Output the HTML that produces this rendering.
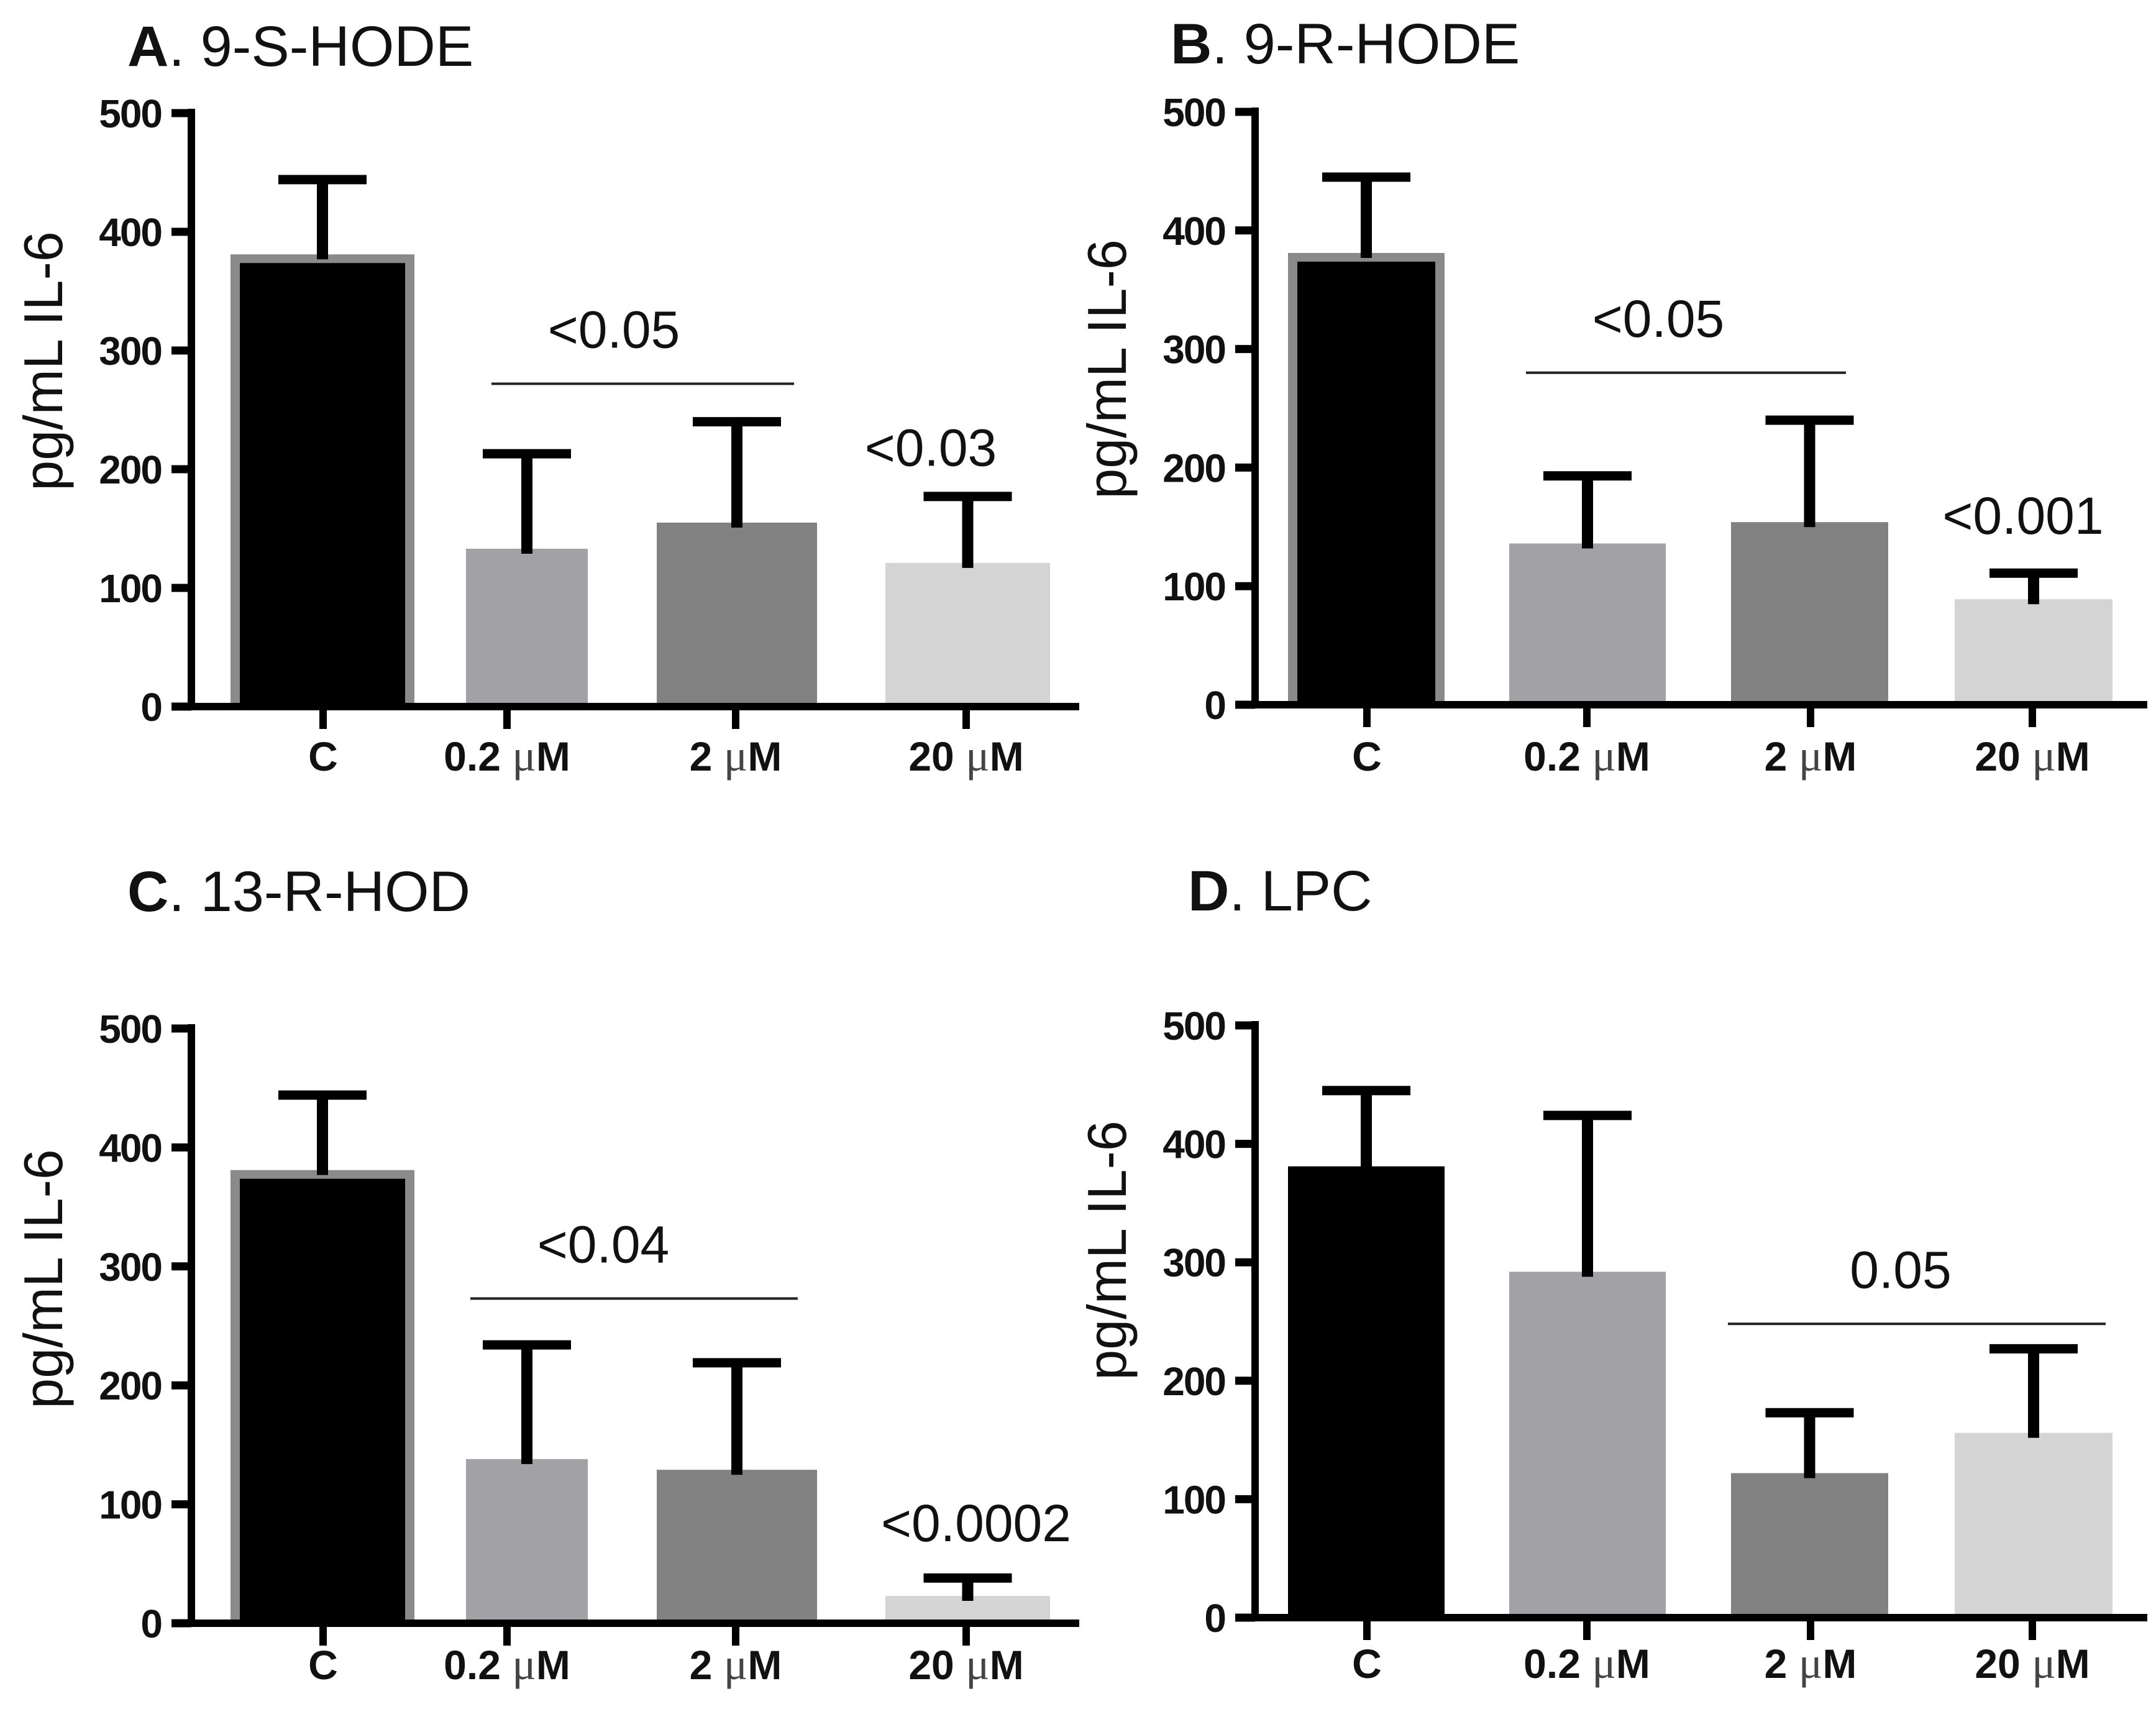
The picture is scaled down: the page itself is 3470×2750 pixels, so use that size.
<!DOCTYPE html>
<html><head><meta charset="utf-8"><style>
html,body{margin:0;padding:0;background:#fff;}
svg{display:block;}
text{font-family:"Liberation Sans",sans-serif;}
</style></head><body>
<svg id="fig" width="3470" height="2750" viewBox="0 0 3470 2750"></svg>
<script>
// ---- data ----
const categories = ["C", "0.2", "2", "20"];
const meansA = [381, 133, 155, 121];
const errA   = [444, 213, 240, 177];
const meansB = [381, 136, 154, 89];
const errB   = [445, 193, 240, 111];
const meansC = [381, 138, 129, 23];
const errC   = [444, 234, 219, 38];
const meansD = [381, 292, 122, 156];
const errD   = [445, 424, 173, 227];
const yTicks = [0, 100, 200, 300, 400, 500];
const sigA = [{t:"<0.05", v:272, from:0, to:2}, {t:"<0.03", v:203, at:3}];
const sigB = [{t:"<0.05", v:280, from:0, to:2}, {t:"<0.001", v:144, at:3}];
const sigC = [{t:"<0.04", v:273, from:0, to:2}, {t:"<0.0002", v:69, at:3}];
const sigD = [{t:"0.05", v:248, from:2, to:3}];

const colors = ["#000000", "#a2a2a6", "#818181", "#d4d4d4"];
const NS = "http://www.w3.org/2000/svg";
const svg = document.getElementById("fig");
function mk(tag, attrs, parent){
  const e = document.createElementNS(NS, tag);
  for (const k in attrs) e.setAttribute(k, attrs[k]);
  (parent||svg).appendChild(e);
  return e;
}

const panels = [
  {id:"a", title:"A", name:"9-S-HODE", means:meansA, errs:errA, sig:sigA, ax:308, y0:1137, y500:182, xEnd:1737, tx:205, ty:106, lblY:1240, ytC:581,
   bars:[[371,667],[750,946],[1057,1315],[1425,1690]], ticks:[520,816,1184,1555], border:true,
   lineX:[791,1278], textX:[988,1498]},
  {id:"b", title:"B", name:"9-R-HODE", means:meansB, errs:errB, sig:sigB, ax:2020, y0:1134, y500:180, xEnd:3456, tx:1884, ty:102, lblY:1240, ytC:594,
   bars:[[2073,2325],[2429,2681],[2786,3039],[3146,3400]], ticks:[2200,2554,2914,3271], border:true,
   lineX:[2456,2971], textX:[2669,3256]},
  {id:"c", title:"C", name:"13-R-HOD", means:meansC, errs:errC, sig:sigC, ax:308, y0:2612, y500:1655, xEnd:1737, tx:205, ty:1466, lblY:2702, ytC:2058,
   bars:[[371,667],[750,946],[1057,1315],[1425,1690]], ticks:[520,816,1184,1555], border:true,
   lineX:[757,1284], textX:[971,1571]},
  {id:"d", title:"D", name:"LPC", means:meansD, errs:errD, sig:sigD, ax:2020, y0:2603, y500:1650, xEnd:3456, tx:1912, ty:1465, lblY:2700, ytC:2012,
   bars:[[2073,2325],[2429,2681],[2786,3039],[3146,3400]], ticks:[2200,2554,2914,3271], border:false,
   lineX:[2781,3389], textX:[3059]}
];

panels.forEach(p => {
  const g = mk("g", {});
  
  
  const y = v => p.y0 - (p.y500 - p.y0) * -v / 500;
  // title
  const t = mk("text", {x:p.tx, y:p.ty, "font-size":92, fill:"#111"}, g);
  
  
  const b = mk("tspan", {"font-weight":"bold"}, t); b.textContent = p.title;
  const r = mk("tspan", {}, t); r.textContent = ". " + p.name;
  // bars
  p.means.forEach((m, i) => {
    const [l, rr] = p.bars[i];
    const bar = mk("rect", {x:l, y:y(m), width:rr-l, height:p.y0-y(m), fill:colors[i]}, g);
    
    
    if (i === 0 && p.border) {
      bar.setAttribute("fill", "#8a8a8a");
      const inner = mk("rect", {x:l+15, y:y(m)+14, width:rr-l-30, height:p.y0-y(m)-14, fill:"#000"}, g);
      
      
    }
    const cx = (l + rr) / 2;
    const eb = mk("line", {x1:cx, x2:cx, y1:y(m)+8, y2:y(p.errs[i]), stroke:"#000", "stroke-width":18}, g);
    
    
    const cap = mk("line", {x1:cx-71, x2:cx+71, y1:y(p.errs[i]), y2:y(p.errs[i]), stroke:"#000", "stroke-width":15}, g);
    
    
  });
  // axes
  const ya = mk("line", {x1:p.ax, x2:p.ax, y1:p.y500-7, y2:p.y0+6, stroke:"#000", "stroke-width":12}, g);
  
  
  const xa = mk("line", {x1:p.ax-32, x2:p.xEnd, y1:p.y0, y2:p.y0, stroke:"#000", "stroke-width":12}, g);
  
  
  yTicks.forEach(v => {
    const tk = mk("line", {x1:p.ax-32, x2:p.ax, y1:y(v), y2:y(v), stroke:"#000", "stroke-width":13}, g);
    
    
    const tl = mk("text", {x:p.ax-48, y:y(v)+23, "font-size":64, "font-weight":"bold", "text-anchor":"end", fill:"#111", "letter-spacing":-2}, g);
    
    
    tl.textContent = v;
  });
  const yt = mk("text", {x:0, y:0, "font-size":88, "text-anchor":"middle", fill:"#111",
    transform:`translate(${p.ax-208},${p.ytC}) rotate(-90)`}, g);
  
  
  yt.textContent = "pg/mL IL-6";
  categories.forEach((c, i) => {
    const tk = mk("line", {x1:p.ticks[i], x2:p.ticks[i], y1:p.y0, y2:p.y0+36, stroke:"#000", "stroke-width":12}, g);
    
    
    const xl = mk("text", {x:p.ticks[i], y:p.lblY, "font-size":66, "font-weight":"bold", "text-anchor":"middle", fill:"#111"}, g);
    
    
    if (c === "C") { xl.textContent = "C"; }
    else {
      const a = mk("tspan", {}, xl); a.textContent = c + " ";
      const mu = mk("tspan", {"font-weight":"normal", fill:"#444", "font-size":72, "font-family":"Liberation Serif, serif"}, xl); mu.textContent = "μ";
      const mm = mk("tspan", {}, xl); mm.textContent = "M";
    }
  });
  // significance annotations
  p.sig.forEach((s, k) => {
    if (s.from !== undefined) {
      const ln = mk("line", {x1:p.lineX[0], x2:p.lineX[1], y1:y(s.v), y2:y(s.v), stroke:"#222", "stroke-width":4}, g);
      
      
      const st = mk("text", {x:p.textX[0], y:y(s.v)-58, "font-size":84, "text-anchor":"middle", fill:"#111"}, g);
      
      
      st.textContent = s.t;
    } else {
      const st = mk("text", {x:p.textX[1], y:y(s.v), "font-size":84, "text-anchor":"middle", fill:"#111"}, g);
      
      
      st.textContent = s.t;
    }
  });
});
</script>
</body></html>
